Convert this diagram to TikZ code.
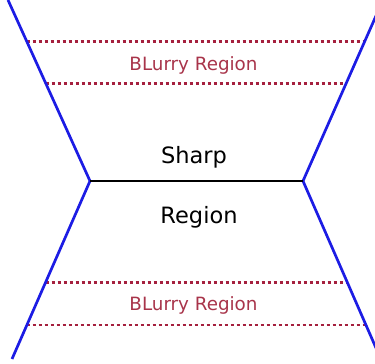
\documentclass[tikz,border=0pt]{standalone}
\usepackage{fontspec}
\setmainfont{DejaVu Sans}
\definecolor{lensblue}{RGB}{28,28,228}
\definecolor{blurred}{RGB}{165,32,62}
\definecolor{blurtext}{RGB}{168,52,74}
\tikzset{
  lensline/.style={draw=lensblue, line width=2.7pt},
  limitline/.style={draw=blurred, line width=2.8pt, dash pattern=on 3pt off 3pt},
  focusline/.style={draw=black, line width=2.2pt},
  bigtext/.style={font=\fontsize{22.5}{26}\selectfont, text=black, inner sep=0pt, anchor=base},
  blurlabel/.style={font=\fontsize{18.3}{22}\selectfont, text=blurtext, inner sep=0pt, anchor=base},
}
\begin{document}
\begin{tikzpicture}[x=1pt,y=-1pt]
  \useasboundingbox (0,0) rectangle (375,364);
  \clip (0,0) rectangle (375,364);
  % corners of the focus plane
  \coordinate (fl) at (90,181);
  \coordinate (fr) at (303,181);
  % outer ends of the cone edges
  \coordinate (tl) at (8,0);
  \coordinate (tr) at (383,0);
  \coordinate (bl) at (12,359);
  \coordinate (br) at (383,364);
  % blurry band limits
  \coordinate (a1) at (26.5,41.5);  \coordinate (a2) at (364.5,41.5);
  \coordinate (b1) at (45.5,83.5);  \coordinate (b2) at (345.5,83.5);
  \coordinate (c1) at (45.5,282.5); \coordinate (c2) at (346.5,282.5);
  \coordinate (d1) at (26.5,325);   \coordinate (d2) at (366.5,325);
  \draw[limitline] (a1) -- (a2);
  \draw[limitline] (b1) -- (b2);
  \draw[limitline] (c1) -- (c2);
  \draw[limitline] (d1) -- (d2);
  % cone edges
  \draw[lensline] (tl) -- (fl) -- (bl);
  \draw[lensline] (tr) -- (fr) -- (br);
  % focus plane
  \draw[focusline] (fl) -- (fr);
  % labels
  \node[bigtext] (sharp) at (194,163) {Sharp};
  \node[bigtext] (region) at (199,223) {Region};
  \node[blurlabel] (blurtop) at (193.5,70) {BLurry Region};
  \node[blurlabel] (blurbot) at (193.5,310) {BLurry Region};
\end{tikzpicture}
\end{document}
